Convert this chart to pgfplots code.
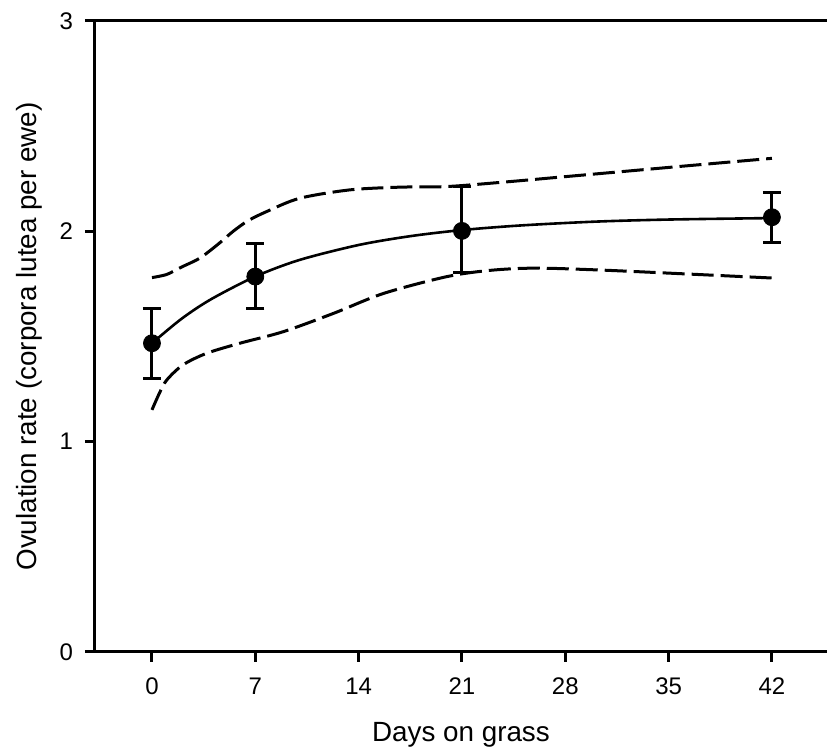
\documentclass[border=0pt]{standalone}
\usepackage{pgfplots}
\pgfplotsset{compat=1.18}
\usepackage{fontspec}
\setmainfont{Liberation Sans}

% means with error bars
\pgfplotstableread{
x   y      ep     em
0   1.468  0.167  0.166
7   1.785  0.158  0.151
21  2.002  0.211  0.198
42  2.067  0.119  0.119
}\means

\begin{document}
\begin{tikzpicture}
\begin{axis}[
    name=ax,
    at={(0,0)}, anchor=south west,
    width=366pt, height=315.5pt, scale only axis,
    xmin=-3.86, xmax=45.73,
    ymin=0, ymax=3,
    axis x line*=box, axis y line*=left,
    xtick={0,7,14,21,28,35,42},
    ytick={0,1,2,3},
    xtick pos=bottom, ytick pos=left,
    tick align=outside,
    major tick length=5pt,
    axis line style={line width=1.5pt, black},
    every tick/.style={black, line width=1.5pt},
    /pgf/number format/assume math mode=true,
    tick label style={font=\fontsize{12}{14}\selectfont},
    xticklabel style={yshift=-4.5pt},
    yticklabel style={xshift=-2.5pt},
    xlabel={Days on grass},
    ylabel={Ovulation rate (corpora lutea per ewe)},
    every axis x label/.style={at={(axis description cs:0.5,0)}, anchor=base,
        yshift=-45pt, font=\fontsize{13.9}{16}\selectfont},
    every axis y label/.style={at={(axis description cs:0,0.5)}, xshift=-33pt,
        anchor=center, rotate=90, font=\fontsize{13.9}{16}\selectfont},
    clip=false,
]
    % fitted curve
    \addplot[black, line width=1.3pt, smooth] coordinates {
        (0,1.468) (2,1.584) (4,1.677) (7,1.785) (10,1.864) (14,1.935)
        (17.5,1.977) (21,2.006) (25,2.028) (30,2.046) (35,2.056) (42,2.063)
    };
    % upper band
    \addplot[black, line width=1.5pt, smooth, dash pattern=on 11pt off 3.5pt] coordinates {
        (0,1.78) (1,1.795) (2,1.83) (3.25,1.873) (4.5,1.94) (5.5,2.0) (6.5,2.05)
        (7.77,2.094) (10,2.157) (13.4,2.197) (16.8,2.21) (20,2.213) (24,2.235)
        (28,2.26) (32,2.285) (36,2.31) (42,2.347)
    };
    % lower band
    \addplot[black, line width=1.5pt, smooth, dash pattern=on 11pt off 3.5pt] coordinates {
        (0,1.151) (0.5,1.23) (1,1.293) (2.1,1.365) (3.7,1.42) (5.96,1.468)
        (8.9,1.523) (12.3,1.61) (15.7,1.705) (20,1.785) (23,1.815) (26,1.825)
        (30.35,1.816) (36,1.798) (42,1.778)
    };
    % observed means
    \addplot[black, only marks, mark=*, mark size=4.25pt,
        error bars/.cd, y dir=both, y explicit,
        error bar style={line width=1.5pt},
        error mark options={rotate=90, mark size=4.5pt, line width=1.5pt}]
        table[x=x, y=y, y error plus=ep, y error minus=em] {\means};
\end{axis}
\pgfresetboundingbox
\path (ax.south west) ++(-47.5pt,-48.5pt) rectangle ++(413.5pt,374.5pt);
\end{tikzpicture}
\end{document}
